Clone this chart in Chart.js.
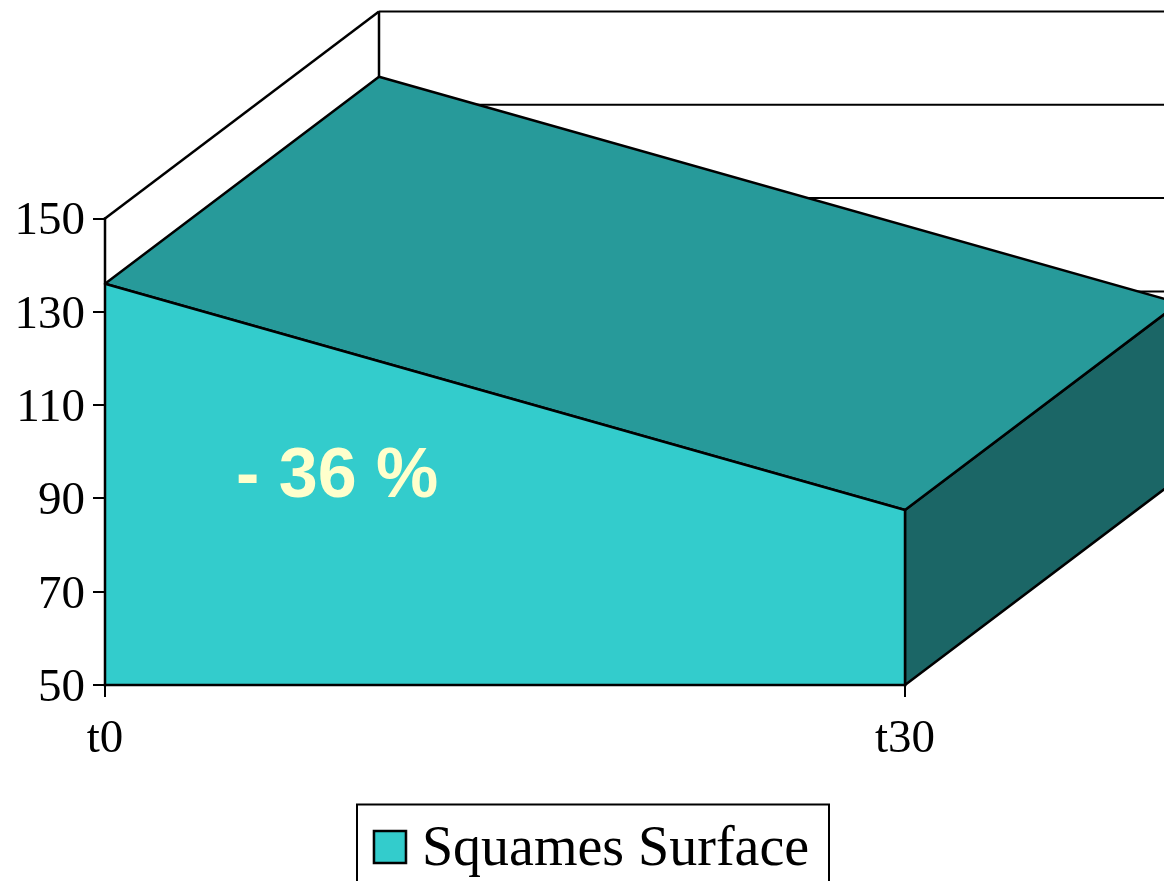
<!DOCTYPE html>
<html>
<head>
<meta charset="utf-8">
<style>
  html, body { margin: 0; padding: 0; background: #fff; overflow: hidden; }
  canvas { display: block; }
</style>
<script src="https://cdn.jsdelivr.net/npm/chart.js@4"></script>
</head>
<body>
<canvas id="chart" width="1164" height="881"></canvas>
<script>
// data
const categories = ["t0", "t30"];
const seriesName = "Squames Surface";
const seriesValues = [136, 87.5];
const yTicks = [50, 70, 90, 110, 130, 150];
const noteText = "- 36 %";

// colours
const FRONT = "#33CCCC";
const TOP = "#279A9A";
const SIDE = "#1B6666";
const INK = "#000000";

// 3d depth of the box, in pixels
const DEPTH_X = 274;
const DEPTH_Y = -207;

const SERIF = "'Liberation Serif', serif";

// legend swatch, drawn once and used as the point style
// (canvas is taller than the square so the square sits a bit above the text centre)
const swatch = document.createElement("canvas");
swatch.width = 36;
swatch.height = 42;
const sw = swatch.getContext("2d");
sw.fillStyle = FRONT;
sw.fillRect(2, 2, 32, 32);
sw.strokeStyle = INK;
sw.lineWidth = 2.5;
sw.strokeRect(2, 2, 32, 32);

function poly(ctx, pts, fill) {
    ctx.beginPath();
    pts.forEach((p, k) => k ? ctx.lineTo(p[0], p[1]) : ctx.moveTo(p[0], p[1]));
    ctx.closePath();
    if (fill) {
        ctx.fillStyle = fill;
        ctx.fill();
    }
    ctx.stroke();
}

function line(ctx, x1, y1, x2, y2) {
    ctx.beginPath();
    ctx.moveTo(x1, y1);
    ctx.lineTo(x2, y2);
    ctx.stroke();
}

const box3d = {
    id: "box3d",
    // move the legend where the frame sits
    afterLayout(chart) {
        chart.legend.left += 145;
        chart.legend.right += 145;
        chart.legend.top = 810;
    },
    beforeDatasetsDraw(chart) {
        const { ctx, scales: { x, y } } = chart;
        const x0 = x.getPixelForValue(0);
        const x1 = x.getPixelForValue(1);
        const yA = y.getPixelForValue(seriesValues[0]);
        const yB = y.getPixelForValue(seriesValues[1]);
        const base = y.getPixelForValue(yTicks[0]);
        const top = y.getPixelForValue(yTicks[yTicks.length - 1]);

        ctx.save();
        ctx.strokeStyle = INK;
        ctx.lineJoin = "round";

        // back wall lines, the top face hides most of them
        ctx.lineWidth = 2;
        yTicks.slice(1).forEach(v => {
            const py = y.getPixelForValue(v) + DEPTH_Y;
            line(ctx, x0 + DEPTH_X, py, chart.width, py);
        });

        // left wall
        ctx.lineWidth = 2.5;
        line(ctx, x0, top, x0 + DEPTH_X, top + DEPTH_Y);
        line(ctx, x0 + DEPTH_X, top + DEPTH_Y, x0 + DEPTH_X, yA + DEPTH_Y);

        // right side and top of the box
        poly(ctx, [[x1, yB], [x1 + DEPTH_X, yB + DEPTH_Y], [x1 + DEPTH_X, base + DEPTH_Y], [x1, base]], SIDE);
        poly(ctx, [[x0, yA], [x0 + DEPTH_X, yA + DEPTH_Y], [x1 + DEPTH_X, yB + DEPTH_Y], [x1, yB]], TOP);
        ctx.restore();
    },
    afterDatasetsDraw(chart) {
        const { ctx, scales: { x, y } } = chart;
        const x0 = x.getPixelForValue(0);
        const x1 = x.getPixelForValue(1);
        const yB = y.getPixelForValue(seriesValues[1]);
        const base = y.getPixelForValue(yTicks[0]);
        const top = y.getPixelForValue(yTicks[yTicks.length - 1]);

        ctx.save();
        ctx.strokeStyle = INK;
        ctx.lineWidth = 2.5;
        ctx.lineCap = "square";
        line(ctx, x0, top, x0, base);
        line(ctx, x0, base, x1, base);
        line(ctx, x1, yB, x1, base);

        ctx.fillStyle = "#FFFFCC";
        ctx.font = "bold 70px 'Liberation Sans', sans-serif";
        ctx.textBaseline = "alphabetic";
        ctx.fillText(noteText, 236, 497);
        ctx.restore();
    },
    afterDraw(chart) {
        const { ctx } = chart;
        ctx.save();
        ctx.strokeStyle = INK;
        ctx.lineWidth = 2;
        ctx.strokeRect(357, 804.5, 472, 100);
        ctx.restore();
    }
};

new Chart(document.getElementById("chart"), {
    type: "line",
    data: {
        labels: categories,
        datasets: [{
            label: seriesName,
            data: seriesValues,
            fill: "start",
            backgroundColor: FRONT,
            borderColor: INK,
            borderWidth: 2.5,
            pointRadius: 0,
            tension: 0
        }]
    },
    options: {
        responsive: false,
        animation: false,
        layout: { padding: { top: 218.5, right: 259, left: 0, bottom: 0 } },
        scales: {
            x: {
                type: "category",
                offset: false,
                afterFit(scale) { scale.height = scale.chart.height - 685 - scale.chart.legend.height; },
                grid: { drawOnChartArea: false, color: INK, lineWidth: 2, tickLength: 12 },
                border: { display: false },
                ticks: { color: INK, font: { family: SERIF, size: 47 }, padding: 14, maxRotation: 0 }
            },
            y: {
                min: yTicks[0],
                max: yTicks[yTicks.length - 1],
                afterFit(scale) { scale.width = 105; },
                afterBuildTicks(scale) { scale.ticks = yTicks.map(v => ({ value: v })); },
                grid: { drawOnChartArea: false, color: INK, lineWidth: 2, tickLength: 12 },
                border: { color: INK, width: 2 },
                ticks: { color: INK, font: { family: SERIF, size: 47 }, padding: 8, labelOffset: 3.5 }
            }
        },
        plugins: {
            tooltip: { enabled: false },
            legend: {
                position: "bottom",
                labels: {
                    color: INK,
                    font: { family: SERIF, size: 56 },
                    usePointStyle: true,
                    pointStyle: swatch,
                    pointStyleWidth: 8,
                    padding: 12
                }
            }
        }
    },
    plugins: [box3d]
});
</script>
</body>
</html>
